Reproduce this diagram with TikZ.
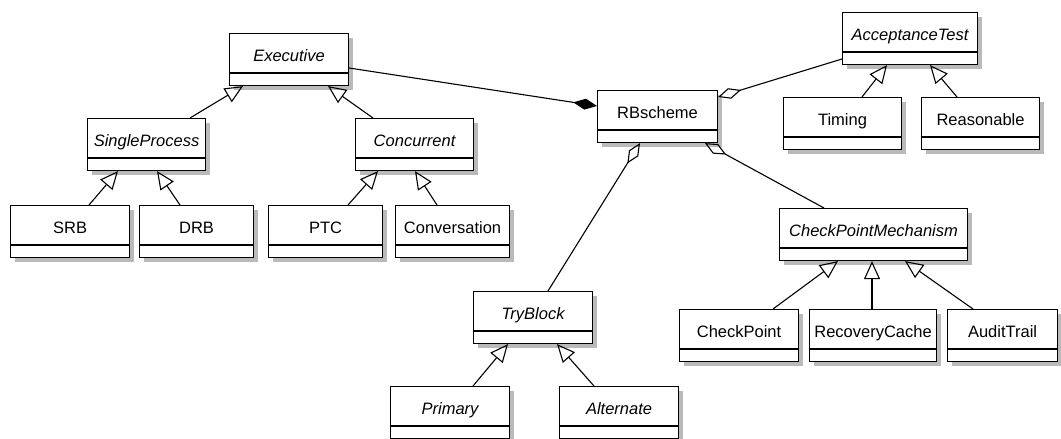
\documentclass[tikz,border=0pt]{standalone}
\usepackage{fontspec}
\setmainfont{Liberation Sans}
\usetikzlibrary{arrows.meta,calc,shadows}

\tikzset{
  classbox/.style={draw, fill=white, line width=1.1pt, inner sep=0pt,
    minimum height=52pt, anchor=north west,
    drop shadow={shadow xshift=4pt, shadow yshift=-4pt, opacity=1, fill=black!27}},
  classname/.style={anchor=base, inner sep=0pt, font=\fontsize{16.5}{19}\selectfont},
  abstract/.style={font=\fontsize{16.5}{19}\selectfont\itshape},
  conn/.style={line width=1.1pt},
  gen/.style={conn, -{Triangle[open, length=18pt, width=16pt]}},
  comp/.style={conn, -{Diamond[length=24pt, width=11pt]}},
  aggr/.style={conn, -{Diamond[open, length=24pt, width=11pt]}},
}

% \umlclass[name style]{id}{left}{top}{width}{class name}
\newcommand\umlclass[6][]{%
  \node[classbox, minimum width=#5pt] (#2) at (#3,#4) {};
  \node[classname, #1] (#2-name) at ($(#2.north)+(0,28)$) {#6};
  \draw[line width=1.1pt] ($(#2.north west)+(0,40)$) -- ($(#2.north east)+(0,40)$);
}

\begin{document}
\begin{tikzpicture}[x=1pt, y=-1pt]
\useasboundingbox (0,0) rectangle (1061,439);

% executive hierarchy
\umlclass[abstract]{exe}{229}{33}{119}{Executive}
\umlclass[abstract]{sp}{87}{118}{118}{SingleProcess}
\umlclass[abstract]{conc}{355}{118}{118}{Concurrent}
\umlclass{srb}{10}{205}{119}{SRB}
\umlclass{drb}{139}{205}{114}{DRB}
\umlclass{ptc}{268}{205}{114}{PTC}
\umlclass{conv}{395}{205}{114}{Conversation}

% recovery block scheme
\umlclass{rbs}{597}{90}{120}{RBscheme}
\umlclass[abstract]{acc}{842}{12}{135}{AcceptanceTest}
\umlclass{tim}{783}{97}{118}{Timing}
\umlclass{rea}{921}{97}{118}{Reasonable}
\umlclass[abstract]{cpm}{779}{208}{188}{CheckPointMechanism}
\umlclass{ckp}{679}{309}{119}{CheckPoint}
\umlclass{rc}{809}{309}{127}{RecoveryCache}
\umlclass{at}{947}{309}{110}{AuditTrail}
\umlclass[abstract]{try}{473}{291}{119}{TryBlock}
\umlclass[abstract]{pri}{390}{386}{119}{Primary}
\umlclass[abstract]{alt}{559}{386}{119}{Alternate}

% generalizations
\draw[gen] ($(sp.north west)+(103,0)$) -- ($(exe.south west)+(14,0)$);
\draw[gen] ($(conc.north west)+(18,0)$) -- ($(exe.south west)+(99,0)$);
\draw[gen] ($(srb.north west)+(79,0)$) -- ($(sp.south west)+(31,0)$);
\draw[gen] ($(drb.north west)+(41,0)$) -- ($(sp.south west)+(70,0)$);
\draw[gen] ($(ptc.north west)+(80,0)$) -- ($(conc.south west)+(23,0)$);
\draw[gen] ($(conv.north west)+(42,0)$) -- ($(conc.south west)+(60,0)$);
\draw[gen] ($(tim.north west)+(79,0)$) -- ($(acc.south west)+(45,0)$);
\draw[gen] ($(rea.north west)+(36,0)$) -- ($(acc.south west)+(88,0)$);
\draw[gen] ($(ckp.north west)+(94,0)$) -- ($(cpm.south west)+(59,0)$);
\draw[gen] ($(rc.north west)+(63,0)$) -- ($(cpm.south west)+(93,0)$);
\draw[gen] ($(at.north west)+(26,0)$) -- ($(cpm.south west)+(126,0)$);
\draw[gen] ($(pri.north west)+(83,0)$) -- ($(try.south west)+(35,0)$);
\draw[gen] ($(alt.north west)+(35,0)$) -- ($(try.south west)+(84,0)$);

% composition and aggregations
\draw[comp] ($(exe.north east)+(0,35)$) -- ($(rbs.north west)+(0,16)$);
\draw[aggr] ($(acc.north west)+(0,47)$) -- ($(rbs.north east)+(0,7)$);
\draw[aggr] ($(try.north west)+(75,0)$) -- ($(rbs.south west)+(43,0)$);
\draw[aggr] ($(cpm.north west)+(45,0)$) -- ($(rbs.south west)+(108,0)$);
\end{tikzpicture}
\end{document}
